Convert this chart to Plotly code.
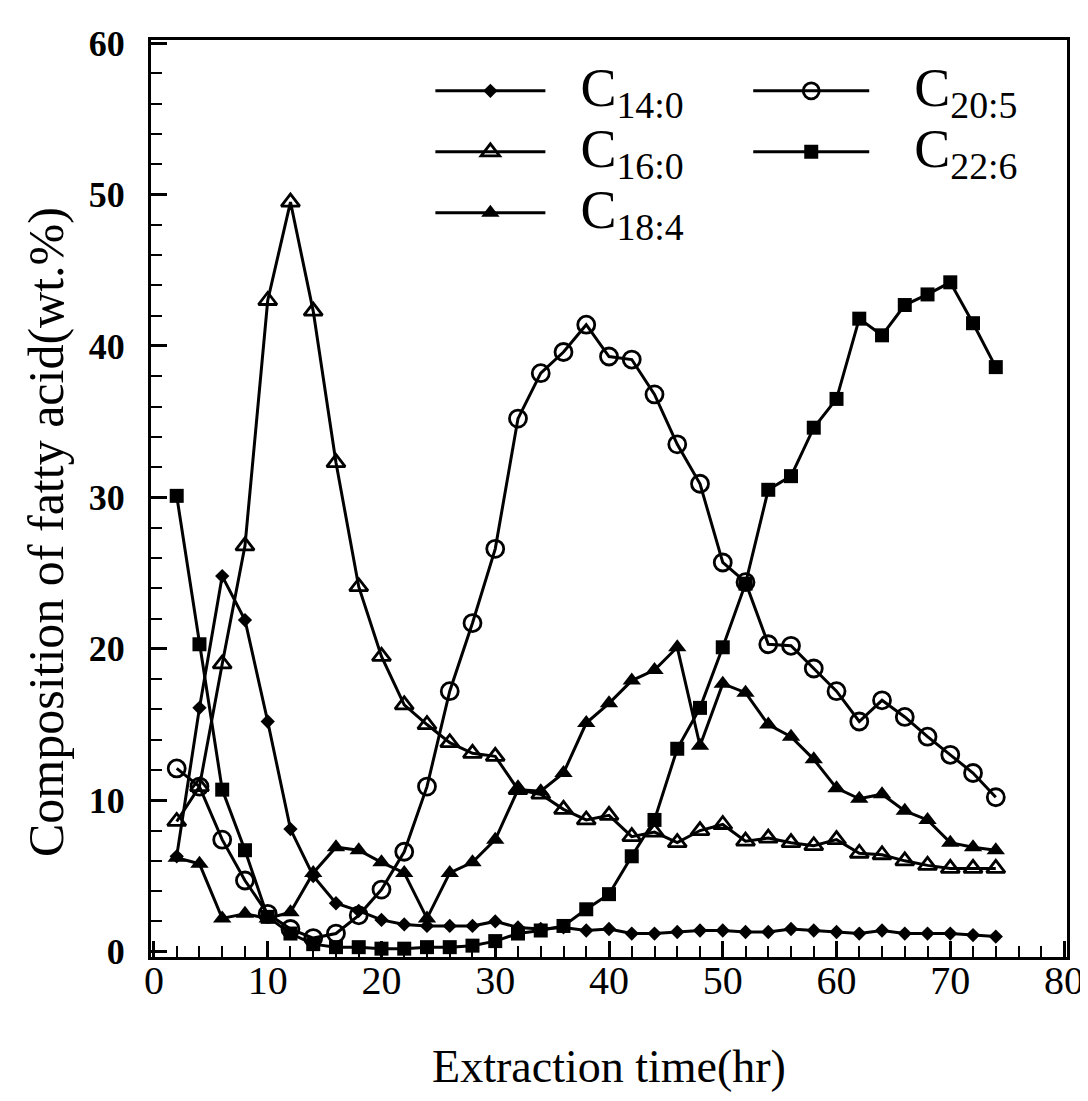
import plotly.graph_objects as go

hours = [2, 4, 6, 8, 10, 12, 14, 16, 18, 20, 22, 24, 26, 28, 30, 32, 34, 36, 38,
         40, 42, 44, 46, 48, 50, 52, 54, 56, 58, 60, 62, 64, 66, 68, 70, 72, 74]

c14_0 = [6.3, 16.1, 24.8, 21.9, 15.2, 8.1, 5.0, 3.2, 2.7, 2.1, 1.8, 1.7, 1.7, 1.7, 2.0,
         1.6, 1.5, 1.6, 1.4, 1.5, 1.2, 1.2, 1.3, 1.4, 1.4, 1.3, 1.3, 1.5, 1.4, 1.3,
         1.2, 1.4, 1.2, 1.2, 1.2, 1.1, 1.0]
c16_0 = [8.6, 10.9, 19.0, 26.8, 43.0, 49.5, 42.3, 32.3, 24.1, 19.5, 16.3, 15.0, 13.8,
         13.1, 12.9, 10.7, 10.4, 9.4, 8.7, 9.0, 7.6, 7.9, 7.2, 8.0, 8.4, 7.3, 7.5, 7.2,
         7.0, 7.4, 6.5, 6.4, 6.0, 5.7, 5.5, 5.5, 5.5]
c18_4 = [6.2, 5.8, 2.2, 2.5, 2.2, 2.6, 5.2, 6.9, 6.7, 5.9, 5.2, 2.2, 5.2, 5.9, 7.4,
         10.7, 10.6, 11.8, 15.1, 16.4, 17.9, 18.6, 20.1, 13.6, 17.7, 17.1, 15.0, 14.2,
         12.7, 10.8, 10.1, 10.4, 9.3, 8.7, 7.2, 6.9, 6.7]
c20_5 = [12.1, 10.9, 7.4, 4.7, 2.5, 1.5, 0.9, 1.2, 2.4, 4.1, 6.6, 10.9, 17.2, 21.7,
         26.6, 35.2, 38.2, 39.6, 41.4, 39.3, 39.1, 36.8, 33.5, 30.9, 25.7, 24.4, 20.3,
         20.2, 18.7, 17.2, 15.2, 16.6, 15.5, 14.2, 13.0, 11.8, 10.2]
c22_6 = [30.1, 20.3, 10.7, 6.7, 2.3, 1.2, 0.5, 0.3, 0.3, 0.2, 0.2, 0.3, 0.3, 0.4, 0.7,
         1.2, 1.4, 1.7, 2.8, 3.8, 6.3, 8.7, 13.4, 16.1, 20.1, 24.3, 30.5, 31.4, 34.6,
         36.5, 41.8, 40.7, 42.7, 43.4, 44.2, 41.5, 38.6]

x_ticks = [0, 10, 20, 30, 40, 50, 60, 70, 80]
y_ticks = [0, 10, 20, 30, 40, 50, 60]

FONT = "Liberation Serif"
INK = "black"
NB = "\u00a0"


def label(sub, pad):
    return NB * pad + '<span style="font-size:54px">C<sub>%s</sub></span>' % sub


series = [
    (label("14:0", 3), c14_0, dict(symbol="diamond", size=11, color=INK), "legend"),
    (label("16:0", 3), c16_0, dict(symbol="triangle-up-open", size=16, color=INK,
                                    line=dict(width=2.8, color=INK)), "legend"),
    (label("18:4", 3), c18_4, dict(symbol="triangle-up", size=16, color=INK), "legend"),
    (label("20:5", 4), c20_5, dict(symbol="circle-open", size=17, color=INK,
                                    line=dict(width=2.8, color=INK)), "legend2"),
    (label("22:6", 4), c22_6, dict(symbol="square", size=14, color=INK), "legend2"),
]

fig = go.Figure()
for i, (name, vals, mk, lg) in enumerate(series):
    fig.add_trace(go.Scatter(
        x=hours, y=vals, name=name, mode="lines+markers",
        line=dict(color=INK, width=3), marker=mk,
        legend=lg, legendgroup="g%d" % i,
    ))

axis_common = dict(
    showline=True, linewidth=3, linecolor=INK, mirror=True,
    ticks="inside", tickwidth=2.5, tickcolor=INK, ticklen=16,
    showgrid=False, zeroline=False,
    minor=dict(ticks="inside", ticklen=11, tickwidth=2, tickcolor=INK, dtick=2),
)

fig.update_layout(
    width=1088, height=1101,
    margin=dict(l=143, r=16, t=32, b=152),
    paper_bgcolor="white", plot_bgcolor="white",
    font=dict(family=FONT, color=INK),
    xaxis=dict(
        range=[-0.26, 80.26], tickvals=x_ticks, **axis_common,
        tickfont=dict(family=FONT, size=40, color=INK),
        ticklabelstandoff=-14, ticklabeloverflow="allow",
        title=dict(text="Extraction time(hr)", standoff=48,
                   font=dict(family=FONT, size=46, color=INK)),
    ),
    yaxis=dict(
        range=[-0.35, 60.2], tickvals=y_ticks, **axis_common,
        tickfont=dict(family=FONT, size=36, color=INK, weight="bold"),
        ticklabelstandoff=16,
    ),
    legend=dict(
        x=0.305, y=0.98, xanchor="left", yanchor="top",
        bgcolor="rgba(0,0,0,0)", itemwidth=110, tracegroupgap=6,
        font=dict(family=FONT, size=40, color=INK),
    ),
    legend2=dict(
        x=0.652, y=0.98, xanchor="left", yanchor="top",
        bgcolor="rgba(0,0,0,0)", itemwidth=116, tracegroupgap=6,
        font=dict(family=FONT, size=40, color=INK),
    ),
    annotations=[dict(
        text="Composition of fatty acid(wt.%)", textangle=-90,
        xref="paper", yref="paper", x=-0.114, y=0.463,
        xanchor="center", yanchor="middle", showarrow=False,
        font=dict(family=FONT, size=50, color=INK),
    )],
    showlegend=True,
)

fig.write_html("out.html")
